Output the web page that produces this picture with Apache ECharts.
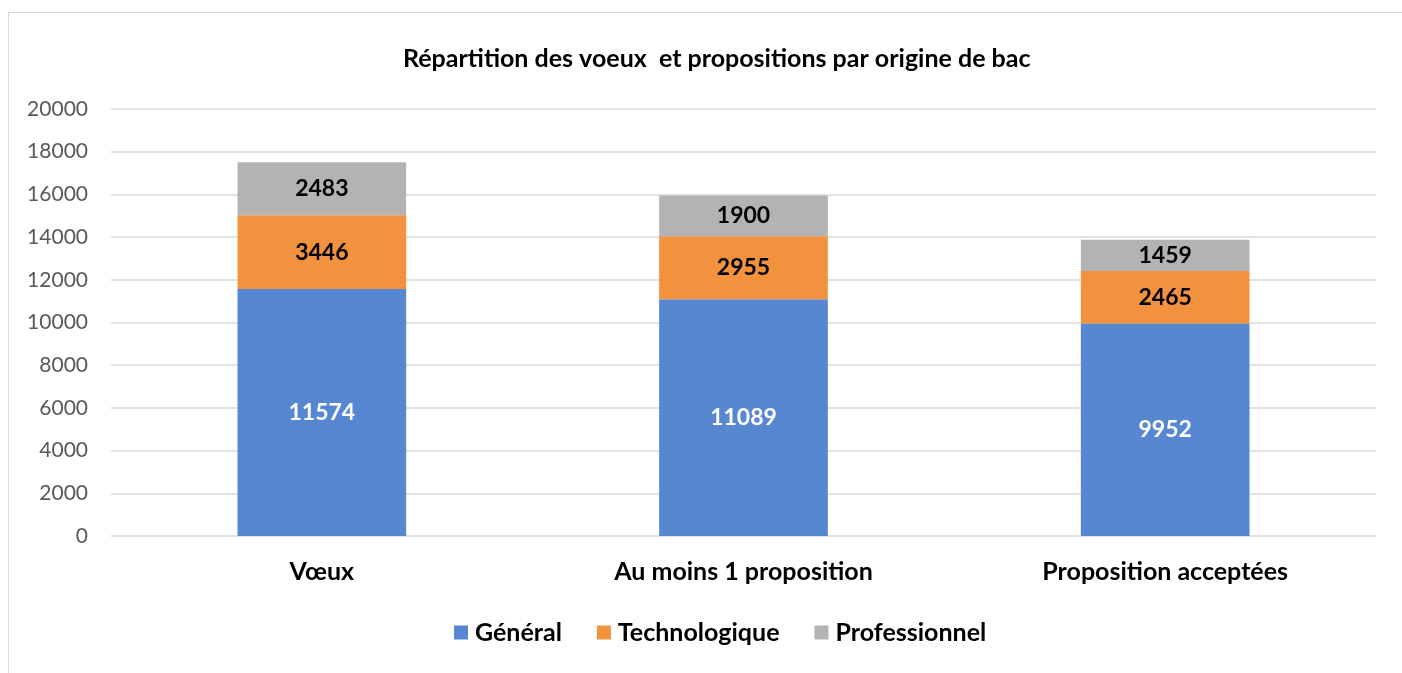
<!DOCTYPE html>
<html>
<head>
<meta charset="utf-8">
<script src="https://cdn.jsdelivr.net/npm/echarts@6/dist/echarts.min.js"></script>
<style>
  html, body { margin: 0; padding: 0; background: #fff; }
  #frame {
    position: absolute; left: 8px; top: 12px; width: 1400px; height: 680px;
    border: 1px solid #d9d9d9; box-sizing: border-box;
  }
  #chart { position: absolute; left: 0; top: 0; width: 1402px; height: 673px; }
</style>
</head>
<body>
<div id="frame"></div>
<div id="chart"></div>
<script>
// donnees du graphique
const categories = ["Vœux", "Au moins 1 proposition", "Proposition acceptées"];
const general = [11574, 11089, 9952];
const technologique = [3446, 2955, 2465];
const professionnel = [2483, 1900, 1459];
const yTicks = [0, 2000, 4000, 6000, 8000, 10000, 12000, 14000, 16000, 18000, 20000];

const font = "Lato, 'Liberation Sans', sans-serif";

let myChart = echarts.init(document.getElementById("chart"));
window.onresize = myChart.resize;

function serie(name, data, color, labelColor) {
  return {
    name: name,
    type: "bar",
    stack: "total",
    data: data,
    barWidth: "40%",
    itemStyle: { color: color },
    label: {
      show: true,
      position: "inside",
      color: labelColor,
      fontFamily: font,
      fontWeight: "bold",
      fontSize: 23,
    },
  };
}

let option = {
  animation: false,
  title: {
    text: "Répartition des voeux  et propositions par origine de bac",
    left: 398,
    top: 41,
    textStyle: {
      fontFamily: font,
      fontWeight: "bold",
      fontSize: 25,
      color: "#000",
    },
  },
  legend: {
    top: 615,
    left: 449,
    icon: "rect",
    itemWidth: 14,
    itemHeight: 14,
    itemGap: 35,
    textStyle: {
      fontFamily: font,
      fontWeight: "bold",
      fontSize: 25,
      color: "#000",
      padding: [0, 0, 0, 2],
    },
    data: ["Général", "Technologique", "Professionnel"],
  },
  grid: {
    left: 111,
    right: 26,
    top: 109,
    bottom: 137,
  },
  xAxis: {
    type: "category",
    data: categories,
    axisLine: { show: false },
    axisTick: { show: false },
    axisLabel: {
      margin: 23,
      fontFamily: font,
      fontWeight: "bold",
      fontSize: 25,
      color: "#000",
    },
  },
  yAxis: {
    type: "value",
    min: yTicks[0],
    max: yTicks[yTicks.length - 1],
    interval: yTicks[1] - yTicks[0],
    axisLine: { show: false },
    axisTick: { show: false },
    axisLabel: {
      margin: 23,
      fontFamily: font,
      fontSize: 21,
      color: "#595959",
      formatter: (v) => String(v),
    },
    splitLine: { lineStyle: { color: "#d9d9d9", width: 1.5 } },
  },
  series: [
    serie("Général", general, "#5687d0", "#fff"),
    serie("Technologique", technologique, "#f2923f", "#000"),
    serie("Professionnel", professionnel, "#b3b3b3", "#000"),
  ],
};
myChart.setOption(option);
</script>
</body>
</html>
